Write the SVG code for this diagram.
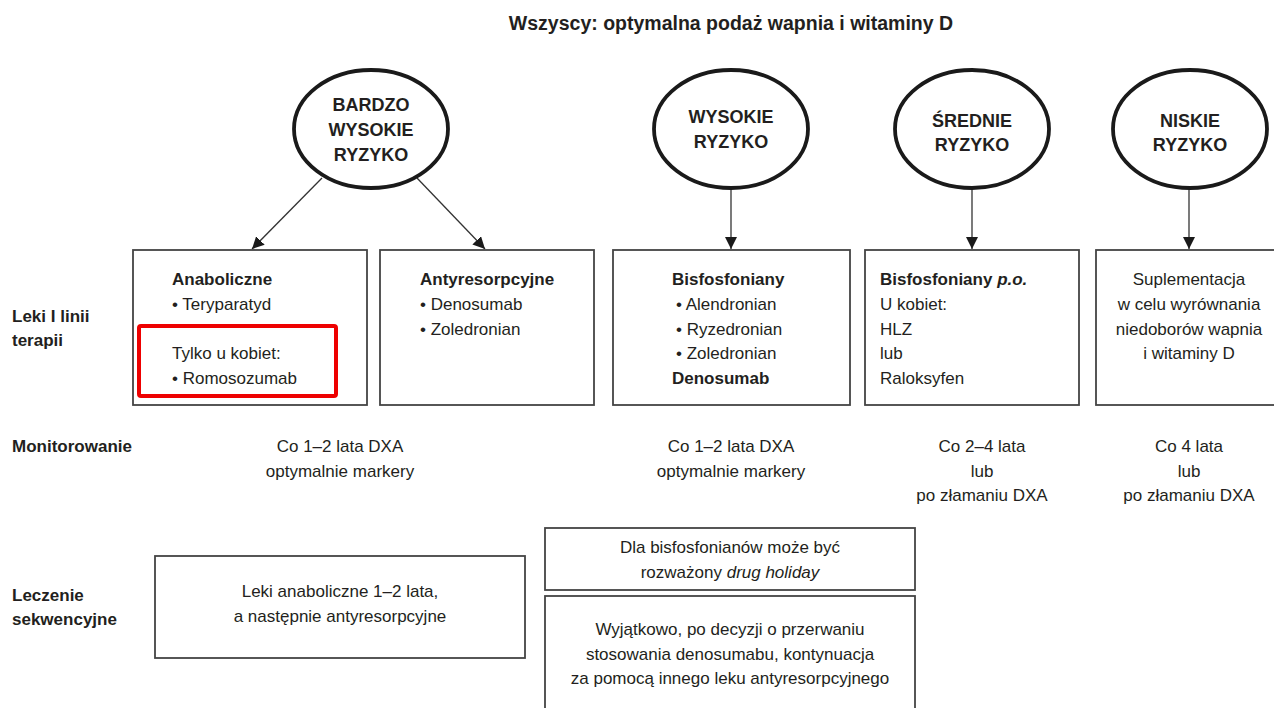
<svg xmlns="http://www.w3.org/2000/svg" width="1274" height="708" viewBox="0 0 1274 708">
<defs>
<style>
text{font-family:"Liberation Sans",Arial,sans-serif;font-size:17px;fill:#231f20}
.b{font-weight:bold}
.c{text-anchor:middle}
.t{font-weight:bold;font-size:19.5px}
.e{font-weight:bold;font-size:18px;text-anchor:middle}
.ell{fill:#fff;stroke:#1a1a1a;stroke-width:3.8}
.box{fill:#fff;stroke:#444;stroke-width:1.8}
.red{fill:none;stroke:#ee0000;stroke-width:4}
.con{stroke:#333;stroke-width:1.3;fill:none;marker-end:url(#ah)}
</style>
<marker id="ah" viewBox="0 0 12 12" refX="12" refY="6" markerWidth="12" markerHeight="12" markerUnits="userSpaceOnUse" orient="auto">
<path d="M0,0 L12,6 L0,12 Z" fill="#1a1a1a"/>
</marker>
</defs>
<rect width="1274" height="708" fill="#fff"/>
<text class="t c" x="731" y="30">Wszyscy: optymalna podaż wapnia i witaminy D</text>

<g id="connectors">
<line class="con" x1="322" y1="178" x2="252" y2="249"/>
<line class="con" x1="417" y1="178" x2="485" y2="249"/>
<line class="con" x1="731" y1="188" x2="731" y2="249"/>
<line class="con" x1="972" y1="188" x2="972" y2="249"/>
<line class="con" x1="1189" y1="188" x2="1189" y2="249"/>
</g>

<g id="n-bardzo">
<ellipse class="ell" cx="371" cy="129" rx="77" ry="59"/>
<text class="e" x="371" y="111">BARDZO</text>
<text class="e" x="371" y="136">WYSOKIE</text>
<text class="e" x="371" y="161">RYZYKO</text>
</g>
<g id="n-wysokie">
<ellipse class="ell" cx="731" cy="129" rx="77" ry="59"/>
<text class="e" x="731" y="123">WYSOKIE</text>
<text class="e" x="731" y="148">RYZYKO</text>
</g>
<g id="n-srednie">
<ellipse class="ell" cx="972" cy="129" rx="77" ry="59"/>
<text class="e" x="972" y="127">ŚREDNIE</text>
<text class="e" x="972" y="151">RYZYKO</text>
</g>
<g id="n-niskie">
<ellipse class="ell" cx="1190" cy="129" rx="77" ry="59"/>
<text class="e" x="1190" y="127">NISKIE</text>
<text class="e" x="1190" y="151">RYZYKO</text>
</g>

<g id="n-anaboliczne">
<rect class="box" x="133" y="250" width="234" height="155"/>
<text class="b" x="172" y="285">Anaboliczne</text>
<text x="172" y="310">• Teryparatyd</text>
<text x="172" y="359">Tylko u kobiet:</text>
<text x="172" y="384">• Romosozumab</text>
<rect class="red" x="139" y="326" width="197" height="70" rx="2"/>
</g>
<g id="n-antyresorpcyjne">
<rect class="box" x="380" y="250" width="214" height="155"/>
<text class="b" x="420" y="285">Antyresorpcyjne</text>
<text x="420" y="310">• Denosumab</text>
<text x="420" y="335">• Zoledronian</text>
</g>
<g id="n-bisfosfoniany">
<rect class="box" x="613" y="250" width="237" height="155"/>
<text class="b" x="672" y="285">Bisfosfoniany</text>
<text x="676" y="310">• Alendronian</text>
<text x="676" y="335">• Ryzedronian</text>
<text x="676" y="359">• Zoledronian</text>
<text class="b" x="672" y="384">Denosumab</text>
</g>
<g id="n-bisfosfoniany-po">
<rect class="box" x="865" y="250" width="214" height="155"/>
<text class="b" x="880" y="285">Bisfosfoniany <tspan font-style="italic">p.o.</tspan></text>
<text x="880" y="310">U kobiet:</text>
<text x="880" y="335">HLZ</text>
<text x="880" y="359">lub</text>
<text x="880" y="384">Raloksyfen</text>
</g>
<g id="n-suplementacja">
<rect class="box" x="1096" y="250" width="190" height="155"/>
<text class="c" x="1189" y="285">Suplementacja</text>
<text class="c" x="1189" y="310">w celu wyrównania</text>
<text class="c" x="1189" y="335">niedoborów wapnia</text>
<text class="c" x="1189" y="359">i witaminy D</text>
</g>

<g id="labels">
<text class="b" x="12" y="322">Leki I linii</text>
<text class="b" x="12" y="346">terapii</text>
<text class="b" x="12" y="452">Monitorowanie</text>
<text class="b" x="12" y="601">Leczenie</text>
<text class="b" x="12" y="625">sekwencyjne</text>
</g>

<g id="monitoring">
<text class="c" x="340" y="452">Co 1–2 lata DXA</text>
<text class="c" x="340" y="477">optymalnie markery</text>
<text class="c" x="731" y="452">Co 1–2 lata DXA</text>
<text class="c" x="731" y="477">optymalnie markery</text>
<text class="c" x="982" y="452">Co 2–4 lata</text>
<text class="c" x="982" y="477">lub</text>
<text class="c" x="982" y="501">po złamaniu DXA</text>
<text class="c" x="1189" y="452">Co 4 lata</text>
<text class="c" x="1189" y="477">lub</text>
<text class="c" x="1189" y="501">po złamaniu DXA</text>
</g>

<g id="n-sekw-anab">
<rect class="box" x="155" y="556" width="370" height="102"/>
<text class="c" x="340" y="597">Leki anaboliczne 1–2 lata,</text>
<text class="c" x="340" y="622">a następnie antyresorpcyjne</text>
</g>
<g id="n-drug-holiday">
<rect class="box" x="545" y="528" width="370" height="62"/>
<text class="c" x="730" y="553">Dla bisfosfonianów może być</text>
<text class="c" x="730" y="578">rozważony <tspan font-style="italic">drug holiday</tspan></text>
</g>
<g id="n-denosumab-stop">
<rect class="box" x="545" y="596" width="370" height="120"/>
<text class="c" x="730" y="635">Wyjątkowo, po decyzji o przerwaniu</text>
<text class="c" x="730" y="660">stosowania denosumabu, kontynuacja</text>
<text class="c" x="730" y="684">za pomocą innego leku antyresorpcyjnego</text>
</g>
</svg>
